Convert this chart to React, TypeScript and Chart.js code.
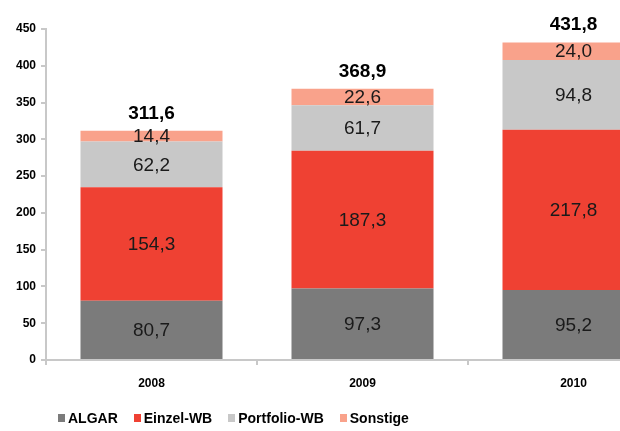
import React, { useEffect, useRef } from "react";
import { Chart, registerables } from "chart.js";

Chart.register(...registerables);

const categories = ["2008", "2009", "2010"];
const algar = [80.7, 97.3, 95.2];
const einzelWB = [154.3, 187.3, 217.8];
const portfolioWB = [62.2, 61.7, 94.8];
const sonstige = [14.4, 22.6, 24.0];
const totals = [311.6, 368.9, 431.8];
const seriesNames = ["ALGAR", "Einzel-WB", "Portfolio-WB", "Sonstige"];
const seriesColors = ["#7b7b7b", "#ef4133", "#c8c8c8", "#f9a28b"];

const FONT = "'Liberation Sans', Arial, sans-serif";
const fmt = (v: number) => v.toFixed(1).replace(".", ",");

const labelPlugin = {
  id: "valueLabels",
  afterDatasetsDraw(chart: any) {
    const ctx = chart.ctx;
    ctx.save();
    ctx.textAlign = "center";
    chart.data.datasets.forEach((ds: any, di: number) => {
      const meta = chart.getDatasetMeta(di);
      meta.data.forEach((el: any, i: number) => {
        const v = ds.data[i];
        const cy = (el.y + el.base) / 2;
        ctx.font = `19px ${FONT}`;
        ctx.fillStyle = "#1a1a1a";
        ctx.textBaseline = "middle";
        ctx.fillText(fmt(v), el.x, cy + 1);
      });
    });
    const last = chart.getDatasetMeta(chart.data.datasets.length - 1);
    last.data.forEach((el: any, i: number) => {
      ctx.font = `bold 19px ${FONT}`;
      ctx.fillStyle = "#000";
      ctx.textBaseline = "alphabetic";
      ctx.fillText(fmt(totals[i]), el.x, el.y - 12);
    });
    ctx.restore();
  },
};

export default function App() {
  const ref = useRef<HTMLCanvasElement | null>(null);
  useEffect(() => {
    if (!ref.current) return;
    const series = [algar, einzelWB, portfolioWB, sonstige];
    const chart = new Chart(ref.current, {
      type: "bar",
      data: {
        labels: categories,
        datasets: series.map((d, i) => ({
          label: seriesNames[i],
          data: d,
          backgroundColor: seriesColors[i],
          borderWidth: 0,
          categoryPercentage: 1,
          barPercentage: 0.673,
        })),
      },
      options: {
        animation: false,
        responsive: true,
        maintainAspectRatio: false,
        layout: { padding: { top: 29, right: 1, bottom: 0, left: 0 } },
        plugins: { legend: { display: false }, tooltip: { enabled: false } },
        scales: {
          x: {
            stacked: true,
            grid: {
              display: true,
              drawOnChartArea: false,
              drawTicks: true,
              tickLength: 5,
              color: "#c8c8c8",
              lineWidth: 2,
              offset: true,
            },
            border: { display: true, color: "#c8c8c8", width: 2 },
            ticks: {
              color: "#000",
              font: { family: FONT, size: 12, weight: "bold" },
              padding: 11,
            },
            afterFit: (s: any) => {
              s.height = 71;
            },
          },
          y: {
            stacked: true,
            min: 0,
            max: 450,
            grid: {
              display: true,
              drawOnChartArea: false,
              drawTicks: true,
              tickLength: 5,
              color: "#c8c8c8",
              lineWidth: 2,
            },
            border: { display: true, color: "#c8c8c8", width: 2 },
            ticks: {
              stepSize: 50,
              color: "#000",
              font: { family: FONT, size: 12, weight: "bold" },
              padding: 5,
            },
            afterFit: (s: any) => {
              s.width = 46;
            },
          },
        },
      },
      plugins: [labelPlugin],
    } as any);
    return () => chart.destroy();
  }, []);

  return (
    <div
      style={{
        position: "absolute",
        left: 0,
        top: 0,
        width: 620,
        height: 431,
        overflow: "hidden",
        background: "#fff",
      }}
    >
      <div style={{ position: "absolute", left: 0, top: 0, width: 680, height: 431 }}>
        <canvas ref={ref} />
      </div>
      <div
        style={{
          position: "absolute",
          left: 58,
          top: 410,
          display: "flex",
          alignItems: "center",
          fontFamily: FONT,
          fontWeight: "bold",
          fontSize: 14,
          color: "#000",
          whiteSpace: "nowrap",
        }}
      >
        {seriesNames.map((n, i) => (
          <div key={n} style={{ display: "flex", alignItems: "center", marginRight: 16 }}>
            <span
              style={{
                display: "inline-block",
                width: 7,
                height: 8,
                background: seriesColors[i],
                marginRight: 3,
              }}
            />
            <span>{n}</span>
          </div>
        ))}
      </div>
    </div>
  );
}
